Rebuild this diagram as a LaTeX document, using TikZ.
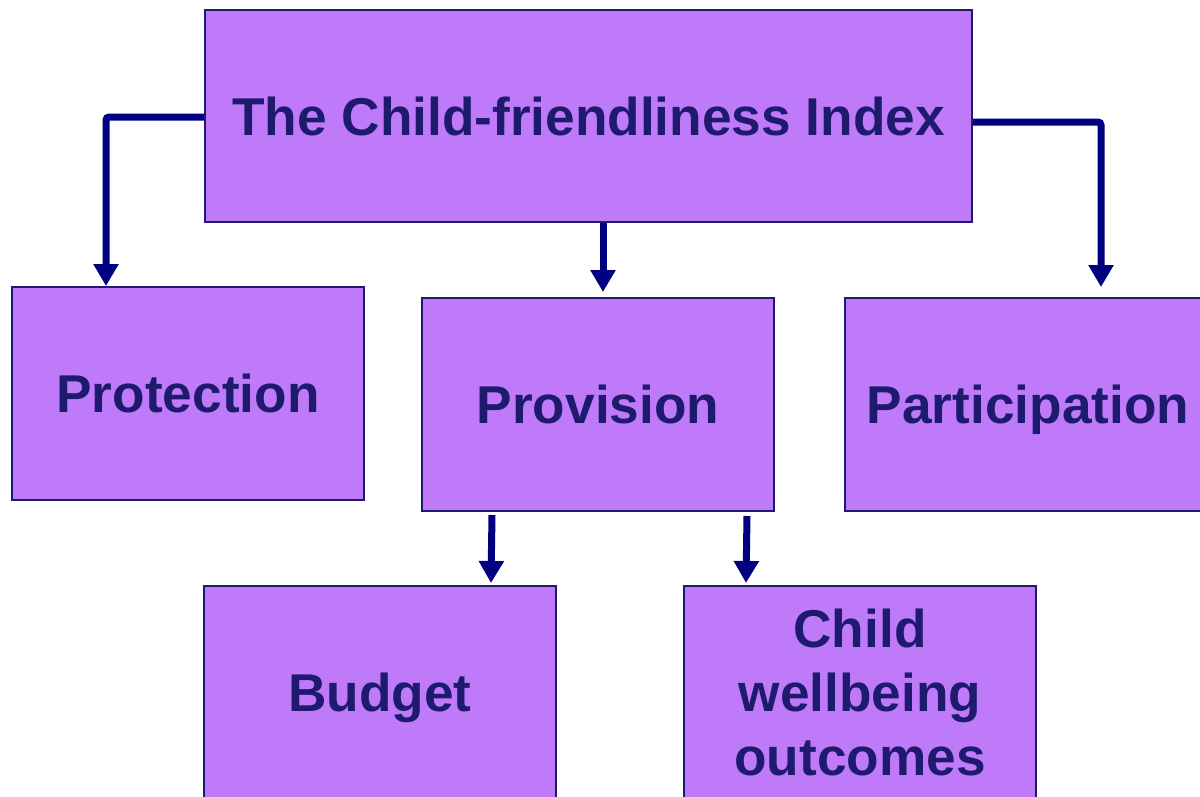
\documentclass[tikz,border=0pt]{standalone}
\usepackage{fontspec}
\setmainfont{Liberation Sans}
\usetikzlibrary{arrows.meta,calc}
\definecolor{boxfill}{HTML}{BF7AF9}
\definecolor{boxline}{HTML}{1F1A70}
\definecolor{txtcol}{HTML}{1E1A6E}
\definecolor{arrcol}{HTML}{000080}
\begin{document}
\begin{tikzpicture}[x=1pt,y=-1pt,
  box/.style={draw=boxline,line width=2pt,fill=boxfill,inner sep=0pt,
    text=txtcol,font=\fontsize{53.2}{64}\selectfont\bfseries,align=center},
  oneline/.style={text height=38pt,text depth=0pt},
  conn/.style={draw=arrcol,line width=7pt,rounded corners=3pt,
    -{Triangle[width=24pt,length=22pt]}}]
\useasboundingbox (0,0) rectangle (1200,796);
\clip (0,0) rectangle (1200,796);
\node[box,oneline,minimum width=767pt,minimum height=212pt] (top) at (588.5,116) {The Child-friendliness Index};
\node[box,oneline,minimum width=352pt,minimum height=213pt] (prot) at (188,393.5) {Protection};
\node[box,oneline,minimum width=352pt,minimum height=213pt] (prov) at (598,404.5) {Provision};
\node[box,oneline,minimum width=366pt,minimum height=213pt] (part) at (1028,404.5) {Participation};
\node[box,oneline,minimum width=352pt,minimum height=212pt] (budg) at (380,692) {Budget};
\node[box,minimum width=352pt,minimum height=212pt] (cwo) at (860,692) {Child\\wellbeing\\outcomes};
\coordinate (ltop) at ($(top.west)+(0,1)$);
\coordinate (lend) at ($(prot.north west)+(95,0)$);
\draw[conn] (ltop) -| (lend);
\coordinate (rtop) at ($(top.east)+(0,6)$);
\coordinate (rend) at (1101,287);
\draw[conn] (rtop) -| (rend);
\coordinate (cstart) at ($(top.south)+(14.5,0)$);
\coordinate (cend) at (603,292);
\draw[conn] (cstart) -- (cend);
\coordinate (b1s) at (492,515);
\coordinate (b1e) at ($(budg.north west)+(288,-2)$);
\draw[conn] (b1s) -- (b1e);
\coordinate (b2s) at (747,516);
\coordinate (b2e) at ($(cwo.north west)+(63,-2)$);
\draw[conn] (b2s) -- (b2e);
\end{tikzpicture}
\end{document}
